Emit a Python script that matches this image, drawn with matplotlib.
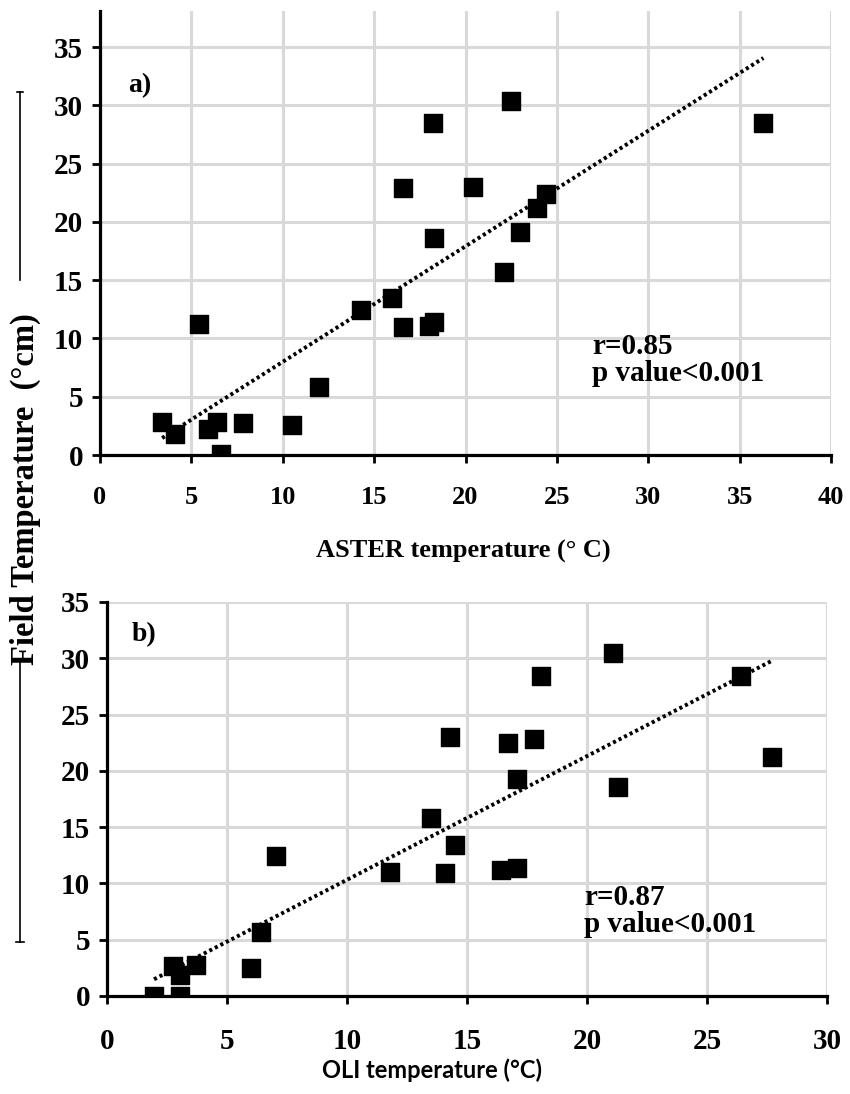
import numpy as np
import matplotlib
matplotlib.use("Agg")
import matplotlib.pyplot as plt
from matplotlib.lines import Line2D

# panel a) ASTER vs field temperature
aster_x = [3.4, 4.1, 5.4, 5.9, 6.4, 6.6, 7.8, 10.5, 12.0, 14.3, 16.0, 16.6, 16.6,
           18.0, 18.3, 18.3, 18.2, 20.4, 22.1, 22.5, 23.0, 23.9, 24.4, 36.3]
aster_y = [2.8, 1.8, 11.2, 2.2, 2.8, 0.1, 2.75, 2.6, 5.8, 12.4, 13.5, 11.0, 22.9,
           11.1, 11.4, 18.6, 28.5, 23.0, 15.7, 30.4, 19.1, 21.2, 22.4, 28.5]

# panel b) OLI vs field temperature
oli_x = [1.96, 3.04, 2.75, 3.04, 3.7, 6.0, 6.4, 7.04, 11.8, 13.5, 14.3, 14.5, 14.1,
         16.4, 17.1, 16.7, 17.8, 17.1, 18.1, 21.1, 21.3, 26.4, 27.7]
oli_y = [0.0, 0.0, 2.7, 1.9, 2.75, 2.5, 5.7, 12.4, 11.0, 15.8, 23.0, 13.4, 10.9,
         11.2, 11.4, 22.5, 22.8, 19.3, 28.4, 30.5, 18.6, 28.4, 21.2]

y_ticks = [0, 5, 10, 15, 20, 25, 30, 35]

serif = "Liberation Serif"

fig = plt.figure(figsize=(8.5, 10.94), dpi=100)
ax1 = fig.add_axes([100 / 850, 1 - 455 / 1094, 731 / 850, 444 / 1094])
ax2 = fig.add_axes([107 / 850, 1 - 996 / 1094, 720 / 850, 394 / 1094])


def style(ax, xs, ys, xmax, ymax, xsize, label_pad):
    ax.scatter(xs, ys, marker="s", s=150, color="black", zorder=3)
    m, b = np.polyfit(xs, ys, 1)
    lx = np.array([min(xs), max(xs)])
    ax.plot(lx, m * lx + b, color="black", lw=2.8, ls=(0, (0.8, 0.8)), zorder=2)
    ax.set_xlim(0, xmax)
    ax.set_ylim(0, ymax)
    ax.set_xticks(np.arange(0, xmax + 0.1, 5))
    ax.set_yticks(y_ticks)
    ax.grid(True, color="#d9d9d9", lw=2.2)
    ax.set_axisbelow(True)
    for s in ["top", "right"]:
        ax.spines[s].set_visible(False)
    for s in ["left", "bottom"]:
        ax.spines[s].set_linewidth(2.3)
    ax.tick_params(axis="both", direction="out", length=6, width=2)
    ax.tick_params(axis="x", pad=label_pad, labelsize=xsize)
    ax.tick_params(axis="y", pad=6, labelsize=21)
    for lab in ax.get_xticklabels() + ax.get_yticklabels():
        lab.set_fontfamily(serif)
        lab.set_fontweight("bold")


style(ax1, aster_x, aster_y, 40, 38.1, 19, 16)
style(ax2, oli_x, oli_y, 30, 35, 21, 17)

ax1.set_xlabel("ASTER temperature (° C)", fontfamily=serif, fontweight="bold",
               fontsize=19)
ax1.xaxis.set_label_coords((463 - 100) / 731, -(551 - 455) / 444)
ax2.set_xlabel("OLI temperature (°C)", fontfamily="Lato", fontweight="bold",
               fontsize=17)
ax2.xaxis.set_label_coords((432 - 107) / 720, -(1070 - 996) / 394)
ax1.xaxis.label.set_va("center")
ax2.xaxis.label.set_va("center")

ax1.text(128 / 850, 1 - 86 / 1094, "a)", transform=fig.transFigure, fontfamily=serif,
         fontweight="bold", fontsize=20, va="center")
ax2.text(132 / 850, 1 - 635 / 1094, "b)", transform=fig.transFigure, fontfamily=serif,
         fontweight="bold", fontsize=20, va="center")

ax1.text(592 / 850, 1 - 333 / 1094, "r=0.85\np value<0.001", transform=fig.transFigure,
         fontfamily=serif, fontweight="bold", fontsize=21, va="top", linespacing=1.0)
ax2.text(584 / 850, 1 - 884 / 1094, "r=0.87\np value<0.001", transform=fig.transFigure,
         fontfamily=serif, fontweight="bold", fontsize=21, va="top", linespacing=1.0)

fig.text(25 / 850, 1 - 489 / 1094, "Field Temperature  (°cm)", rotation=90,
         fontfamily=serif, fontweight="bold", fontsize=23.5, ha="center", va="center")

# stray bracket lines at the left edge
fx = 20 / 850
fig.add_artist(Line2D([fx, fx], [1 - 92 / 1094, 1 - 280 / 1094], color="black", lw=1.2))
fig.add_artist(Line2D([17 / 850, 23 / 850], [1 - 92 / 1094, 1 - 92 / 1094], color="black", lw=1.2))
fig.add_artist(Line2D([fx, fx], [1 - 662 / 1094, 1 - 942 / 1094], color="black", lw=1.2))
fig.add_artist(Line2D([16 / 850, 24 / 850], [1 - 942 / 1094, 1 - 942 / 1094], color="black", lw=1.2))

fig.savefig("out.png", dpi=100, facecolor="white")
